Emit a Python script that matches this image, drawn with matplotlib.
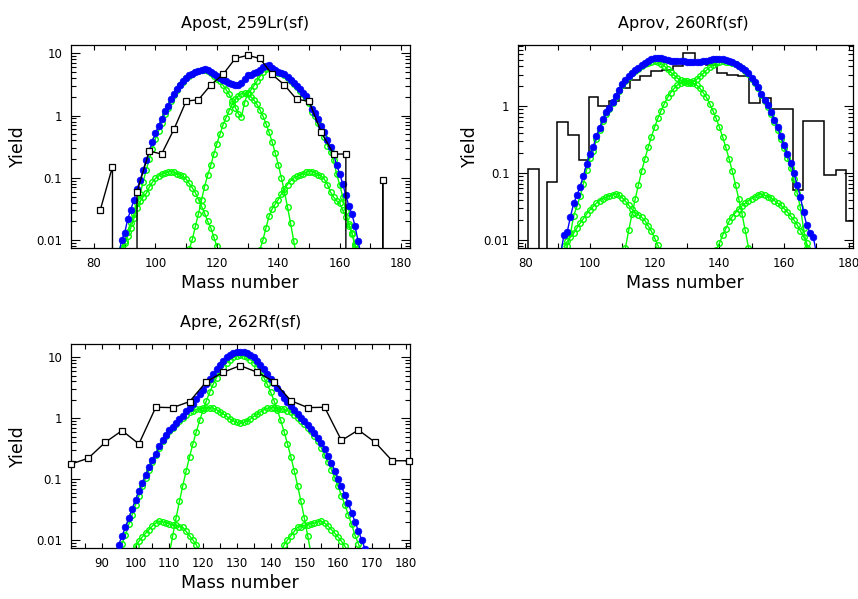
import matplotlib
matplotlib.use('Agg')
import matplotlib.pyplot as plt
from matplotlib.ticker import MultipleLocator, LogLocator, FuncFormatter, NullFormatter

# ---------------- Apost, 259Lr(sf) ----------------
p1_mass_start = 88
p1_total = [0.0056, 0.010, 0.0132, 0.0219, 0.0309, 0.0447, 0.066, 0.091, 0.135, 0.19,
            0.27, 0.38, 0.525, 0.676, 0.87, 1.17, 1.45, 1.82, 2.24, 2.69,
            3.16, 3.63, 4.07, 4.42, 4.73, 5.01, 5.25, 5.50, 5.56, 5.37,
            5.01, 4.62, 4.27, 4.07, 3.80, 3.55, 3.39, 3.24, 3.16, 3.16,
            3.3, 3.9, 4.47, 4.57, 4.79, 5.07, 5.50, 6.03, 6.31, 6.46,
            5.89, 5.37, 5.07, 4.90, 4.62, 4.17, 3.72, 3.39, 2.95, 2.63,
            2.34, 2.04, 1.70, 1.29, 1.10, 0.87, 0.68, 0.54, 0.41, 0.316,
            0.24, 0.158, 0.117, 0.079, 0.052, 0.035, 0.026, 0.0166, 0.0095, 0.0056]
p1_std_start = 88
p1_std = [0.0045, 0.0075, 0.0095, 0.0135, 0.0185, 0.026, 0.040, 0.055, 0.086, 0.134,
          0.199, 0.295, 0.427, 0.569, 0.755, 1.05, 1.33, 1.69, 2.12, 2.57,
          3.05, 3.52, 3.97, 4.33, 4.65, 4.93, 5.18, 5.42, 5.46, 5.25,
          4.83, 4.37, 3.91, 3.57, 3.09, 2.62, 2.19, 1.73, 1.34, 1.07,
          0.95, 1.6, 2.28, 2.55, 3.0, 3.54, 4.25, 5.04, 5.55, 5.9,
          5.48, 5.08, 4.86, 4.75, 4.49, 4.06, 3.61, 3.28, 2.85, 2.52,
          2.22, 1.92, 1.57, 1.16, 0.98, 0.76, 0.57, 0.445, 0.33, 0.257,
          0.19, 0.115, 0.078, 0.049, 0.029, 0.017, 0.013, 0.0086, 0.006, 0.0035]
p1_sym_start = 111
p1_sym = [0.0071, 0.0102, 0.0166, 0.0263, 0.0437, 0.0724, 0.110, 0.158, 0.24, 0.355,
          0.50, 0.71, 0.93, 1.20, 1.51, 1.82, 2.09, 2.26, 2.29, 2.19,
          2.02, 1.79, 1.53, 1.25, 0.98, 0.74, 0.537, 0.376, 0.25, 0.162,
          0.10, 0.0596, 0.034, 0.0186, 0.0098, 0.005]
p1_farL_start = 89
p1_farL = [0.0063, 0.0089, 0.0117, 0.0158, 0.0224, 0.0331, 0.0417, 0.049, 0.056, 0.071,
           0.085, 0.098, 0.107, 0.115, 0.119, 0.123, 0.126, 0.123, 0.116, 0.110,
           0.105, 0.095, 0.081, 0.069, 0.0575, 0.0447, 0.0347, 0.0269, 0.020, 0.0158,
           0.0112, 0.0079]
p1_farH_start = 134
p1_farH = [0.007, 0.010, 0.0158, 0.024, 0.0316, 0.038, 0.0447, 0.055, 0.066, 0.078,
           0.089, 0.10, 0.105, 0.11, 0.116, 0.123, 0.126, 0.126, 0.12, 0.112,
           0.106, 0.095, 0.078, 0.059, 0.049, 0.0427, 0.039, 0.030, 0.0234, 0.0182,
           0.0126, 0.0079]
p1_exp_mass = [82, 86, 90, 94, 98, 102, 106, 110, 114, 118, 122, 126, 130,
               134, 138, 142, 146, 150, 154, 158, 162, 166, 170, 174, 178]
p1_exp = [0.030, 0.151, 0, 0.06, 0.269, 0.241, 0.60, 1.71, 1.80, 3.10, 4.59, 8.3, 9.3,
          8.3, 4.59, 3.10, 1.82, 1.71, 0.537, 0.241, 0.241, 0, 0, 0.091, 0]

# ---------------- Aprov, 260Rf(sf) ----------------
p2_total_start = 91
p2_total = [0.0063, 0.0120, 0.0132, 0.0224, 0.0355, 0.0468, 0.063, 0.091, 0.138, 0.195,
            0.245, 0.355, 0.479, 0.646, 0.813, 0.955, 1.17, 1.45, 1.78, 2.14,
            2.48, 2.82, 3.16, 3.47, 3.76, 4.17, 4.52, 4.79, 5.07, 5.25,
            5.31, 5.25, 5.13, 4.95, 4.84, 4.79, 4.73, 4.73, 4.73, 4.68,
            4.62, 4.62, 4.62, 4.68, 4.73, 4.84, 4.95, 5.07, 5.19, 5.19,
            5.13, 4.95, 4.79, 4.57, 4.37, 4.07, 3.80, 3.47, 3.13, 2.66,
            2.32, 1.93, 1.55, 1.26, 1.035, 0.822, 0.631, 0.484, 0.363, 0.266,
            0.195, 0.143, 0.101, 0.0676, 0.0447, 0.0263, 0.0166, 0.0129, 0.0112, 0.0063]
p2_std_start = 92
p2_std = [0.006, 0.008, 0.0125, 0.023, 0.032, 0.045, 0.070, 0.113, 0.167, 0.213,
          0.32, 0.44, 0.60, 0.77, 0.91, 1.12, 1.40, 1.73, 2.09, 2.43,
          2.77, 3.11, 3.40, 3.67, 4.04, 4.34, 4.53, 4.70, 4.75, 4.64,
          4.38, 4.03, 3.59, 3.23, 2.93, 2.65, 2.48, 2.37, 2.28, 2.26,
          2.37, 2.54, 2.82, 3.12, 3.48, 3.85, 4.20, 4.52, 4.69, 4.76,
          4.69, 4.61, 4.44, 4.28, 4.00, 3.74, 3.42, 3.08, 2.61, 2.27,
          1.88, 1.50, 1.21, 0.99, 0.78, 0.59, 0.45, 0.33, 0.236, 0.169,
          0.12, 0.081, 0.051, 0.031, 0.015, 0.0077, 0.006]
p2_sym_start = 110
p2_sym = [0.0042, 0.0077, 0.0139, 0.0243, 0.041, 0.067, 0.107, 0.164, 0.243, 0.351,
          0.49, 0.662, 0.867, 1.10, 1.36, 1.61, 1.86, 2.08, 2.25, 2.36,
          2.40, 2.36, 2.25, 2.08, 1.86, 1.61, 1.36, 1.10, 0.867, 0.662,
          0.49, 0.351, 0.243, 0.164, 0.107, 0.067, 0.041, 0.0243, 0.0139, 0.0077,
          0.0042]
p2_farL_start = 92
p2_farL = [0.008, 0.0095, 0.011, 0.0126, 0.0151, 0.0178, 0.0209, 0.0245, 0.0282, 0.0316,
           0.0355, 0.0389, 0.0417, 0.0437, 0.0457, 0.0479, 0.049, 0.0468, 0.0427, 0.038,
           0.0331, 0.0288, 0.0257, 0.024, 0.0219, 0.0195, 0.0162, 0.0135, 0.0107, 0.0083,
           0.0063]
p2_farH_start = 139
p2_farH = [0.0071, 0.0089, 0.0117, 0.0148, 0.019, 0.0224, 0.0257, 0.0288, 0.0324, 0.0355,
           0.0389, 0.0417, 0.0442, 0.0479, 0.049, 0.0468, 0.0447, 0.0427, 0.0389, 0.0355,
           0.0331, 0.0295, 0.0263, 0.0229, 0.020, 0.017, 0.0138, 0.0112, 0.0089, 0.0063]
p2_hist_edges = [77.7, 81.0, 84.4, 86.6, 89.9, 93.3, 96.6, 99.8, 102.6, 106.0, 109.1,
                 112.4, 115.5, 118.8, 122.2, 125.6, 128.9, 132.5, 135.9, 139.2, 142.3,
                 145.9, 149.3, 152.6, 155.9, 159.3, 162.7, 165.8, 169.1, 172.4, 176.1,
                 179.2, 182.5]
p2_hist = [0, 0.115, 0, 0.075, 0.58, 0.376, 0.155, 1.38, 1.02, 1.22, 1.88,
           2.51, 2.82, 3.35, 3.55, 4.0, 6.3, 4.5, 4.2, 3.2, 3.0,
           2.9, 1.12, 1.33, 0.91, 0.91, 0.056, 0.6, 0.6, 0.094, 0.112,
           0.019]

# ---------------- Apre, 262Rf(sf) ----------------
p3_total_start = 94
p3_total = [0.0056, 0.0083, 0.0117, 0.0162, 0.0229, 0.0324, 0.0457, 0.063, 0.087, 0.117,
            0.158, 0.209, 0.263, 0.347, 0.437, 0.525, 0.631, 0.724, 0.832, 0.955,
            1.10, 1.29, 1.48, 1.74, 2.04, 2.45, 2.95, 3.63, 4.37, 5.25,
            6.31, 7.50, 8.71, 10.0, 10.96, 11.6, 12.0, 12.2, 12.0, 11.6,
            10.96, 10.0, 8.71, 7.50, 6.31, 5.25, 4.47, 3.72, 3.09, 2.57,
            2.16, 1.84, 1.58, 1.35, 1.17, 1.02, 0.89, 0.776, 0.676, 0.575,
            0.479, 0.389, 0.309, 0.240, 0.186, 0.138, 0.102, 0.076, 0.055, 0.040,
            0.028, 0.020, 0.0141, 0.010, 0.0071]
p3_std_start = 95
p3_std = [0.006, 0.0087, 0.012, 0.018, 0.026, 0.038, 0.053, 0.076, 0.104, 0.143,
          0.192, 0.244, 0.327, 0.417, 0.506, 0.606, 0.694, 0.79, 0.895, 1.0,
          1.14, 1.26, 1.33, 1.40, 1.43, 1.46, 1.48, 1.48, 1.46, 1.38,
          1.27, 1.17, 1.07, 0.966, 0.90, 0.85, 0.82, 0.85, 0.90, 0.966,
          1.07, 1.17, 1.27, 1.38, 1.46, 1.48, 1.48, 1.46, 1.43, 1.40,
          1.33, 1.26, 1.14, 1.0, 0.895, 0.79, 0.694, 0.606, 0.506, 0.417,
          0.327, 0.244, 0.192, 0.143, 0.104, 0.076, 0.053, 0.038, 0.026, 0.018,
          0.012, 0.0087, 0.006]
p3_sym_start = 110
p3_sym = [0.0058, 0.0117, 0.0229, 0.043, 0.078, 0.137, 0.232, 0.38, 0.60, 0.92,
          1.36, 1.95, 2.70, 3.60, 4.65, 5.81, 7.0, 8.17, 9.18, 10.0,
          10.5, 10.7, 10.5, 10.0, 9.18, 8.17, 7.0, 5.81, 4.65, 3.60,
          2.70, 1.95, 1.36, 0.92, 0.60, 0.38, 0.232, 0.137, 0.078, 0.043,
          0.0229, 0.0117, 0.0058]
p3_farL_start = 99
p3_farL = [0.0063, 0.0079, 0.0095, 0.0112, 0.0129, 0.0148, 0.017, 0.019, 0.0204, 0.020,
           0.019, 0.0186, 0.0178, 0.0174, 0.0166, 0.0162, 0.0138, 0.0117, 0.010, 0.0083,
           0.0063]
p3_farH_start = 143
p3_farH = [0.0063, 0.0083, 0.010, 0.0117, 0.0138, 0.0162, 0.0166, 0.0174, 0.0178, 0.0186,
           0.019, 0.020, 0.0204, 0.019, 0.017, 0.0148, 0.0129, 0.0112, 0.0095, 0.0079,
           0.0063]
p3_exp_mass = [81, 86, 91, 96, 101, 106, 111, 116, 121, 126, 131,
               136, 141, 146, 151, 156, 161, 166, 171, 176, 181]
p3_exp = [0.177, 0.22, 0.40, 0.625, 0.378, 1.51, 1.49, 1.87, 3.98, 5.68, 7.3,
          5.68, 3.98, 1.94, 1.49, 1.51, 0.43, 0.64, 0.40, 0.20, 0.20]

GREEN = '#00ff00'
BLUE = '#0000ff'


def masses(start, vals):
    return list(range(start, start + len(vals)))


def green(ax, start, vals):
    ax.plot(masses(start, vals), vals, color=GREEN, lw=1, marker='o', ms=4.0,
            mfc='none', mec=GREEN, mew=1, zorder=2)


def blue(ax, start, vals):
    ax.plot(masses(start, vals), vals, color=BLUE, lw=1, marker='o', ms=4.8,
            mfc=BLUE, mec=BLUE, mew=0.5, zorder=3)


def style(ax, title, xlim, ylim, xmaj, xmin, ylab_x, title_x):
    ax.set_yscale('log')
    ax.set_xlim(*xlim)
    ax.set_ylim(*ylim)
    ax.xaxis.set_major_locator(MultipleLocator(xmaj))
    ax.xaxis.set_minor_locator(MultipleLocator(xmin))
    ax.yaxis.set_major_locator(LogLocator(base=10))
    ax.yaxis.set_minor_locator(LogLocator(base=10, subs=range(2, 10)))
    ax.yaxis.set_major_formatter(FuncFormatter(lambda v, p: '%g' % v))
    ax.yaxis.set_minor_formatter(NullFormatter())
    ax.tick_params(which='both', direction='in', top=True, right=True,
                   width=0.8, labelsize=8.5, pad=6)
    ax.tick_params(axis='x', which='both', length=3.4)
    ax.tick_params(axis='y', which='major', length=6.5)
    ax.tick_params(axis='y', which='minor', length=3.4)
    for s in ax.spines.values():
        s.set_linewidth(0.9)
    ax.set_title(title, fontsize=11.5, pad=12, x=title_x)
    ax.set_xlabel('Mass number', fontsize=12.5, labelpad=3)
    ax.set_ylabel('Yield', fontsize=12.5)
    ax.yaxis.set_label_coords(ylab_x, 0.5)


fig = plt.figure(figsize=(8.58, 5.99), dpi=100)

# panel 1
ax1 = fig.add_axes([0.0824, 0.5855, 0.3955, 0.3399])
green(ax1, p1_std_start, p1_std)
green(ax1, p1_sym_start, p1_sym)
green(ax1, p1_farL_start, p1_farL)
green(ax1, p1_farH_start, p1_farH)
blue(ax1, p1_mass_start, p1_total)
ax1.plot(p1_exp_mass, p1_exp, color='k', lw=1, marker='s', ms=4.3, mfc='white',
         mec='k', mew=0.9, zorder=4)
style(ax1, 'Apost, 259Lr(sf)', (72.4, 182.9), (0.00736, 13.8), 20, 10, -0.13, 0.515)

# panel 2
ax2 = fig.add_axes([0.6034, 0.5855, 0.3908, 0.3399])
ax2.stairs(p2_hist, p2_hist_edges, color='k', lw=1.1, baseline=None, zorder=1)
green(ax2, p2_std_start, p2_std)
green(ax2, p2_sym_start, p2_sym)
green(ax2, p2_farL_start, p2_farL)
green(ax2, p2_farH_start, p2_farH)
blue(ax2, p2_total_start, p2_total)
style(ax2, 'Aprov, 260Rf(sf)', (77.7, 181.3), (0.0075, 8.4), 20, 10, -0.115, 0.495)

# panel 3
ax3 = fig.add_axes([0.0824, 0.0846, 0.3955, 0.3411])
green(ax3, p3_std_start, p3_std)
green(ax3, p3_sym_start, p3_sym)
green(ax3, p3_farL_start, p3_farL)
green(ax3, p3_farH_start, p3_farH)
blue(ax3, p3_total_start, p3_total)
ax3.plot(p3_exp_mass, p3_exp, color='k', lw=1, marker='s', ms=4.3, mfc='white',
         mec='k', mew=0.9, zorder=4, clip_on=False)
style(ax3, 'Apre, 262Rf(sf)', (80.8, 181.3), (0.0073, 16.5), 10, 5, -0.13, 0.5)

fig.savefig('out.png', dpi=100)
